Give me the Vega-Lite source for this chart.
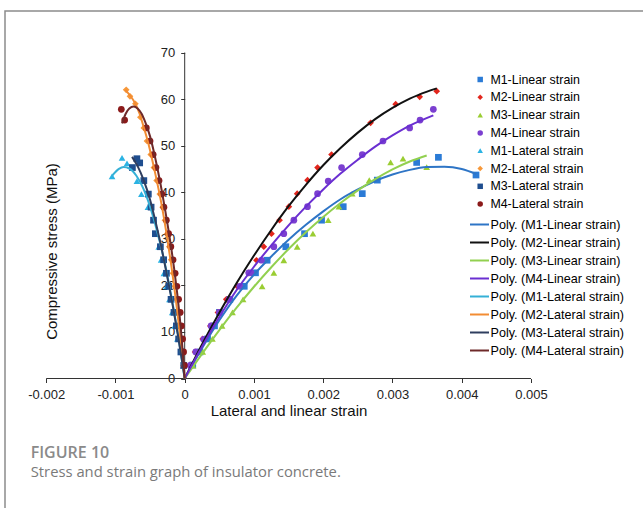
{
  "$schema": "https://vega.github.io/schema/vega-lite/v6.json",
  "width": 643,
  "height": 502,
  "autosize": {"type": "none"},
  "padding": {"left": 5, "top": 11, "right": 0, "bottom": 0},
  "background": "white",
  "config": {
    "view": {"stroke": "#8c8c8c", "strokeWidth": 1.5},
    "font": "Liberation Sans"
  },
  "title": {
    "text": "FIGURE 10",
    "subtitle": "Stress and strain graph of insulator concrete.",
    "orient": "bottom",
    "anchor": "start",
    "frame": "group",
    "offset": -68,
    "dx": 25.7,
    "font": "Open Sans",
    "fontSize": 16,
    "fontWeight": 600,
    "color": "#8a8a8a",
    "subtitleFont": "Open Sans",
    "subtitleFontSize": 14.8,
    "subtitleFontWeight": "normal",
    "subtitleColor": "#7a7a7a",
    "subtitlePadding": 4
  },
  "datasets": {
    "pts": [
      {"s": "M1-Linear strain", "x": 0.000116, "y": 2.9},
      {"s": "M1-Linear strain", "x": 0.00022, "y": 5.7},
      {"s": "M1-Linear strain", "x": 0.00033, "y": 8.5},
      {"s": "M1-Linear strain", "x": 0.00043, "y": 11.3},
      {"s": "M1-Linear strain", "x": 0.000501, "y": 14.2},
      {"s": "M1-Linear strain", "x": 0.000651, "y": 17.0},
      {"s": "M1-Linear strain", "x": 0.00086, "y": 19.8},
      {"s": "M1-Linear strain", "x": 0.001022, "y": 22.7},
      {"s": "M1-Linear strain", "x": 0.00119, "y": 25.4},
      {"s": "M1-Linear strain", "x": 0.00146, "y": 28.3},
      {"s": "M1-Linear strain", "x": 0.00173, "y": 31.1},
      {"s": "M1-Linear strain", "x": 0.001976, "y": 34.0},
      {"s": "M1-Linear strain", "x": 0.002289, "y": 36.9},
      {"s": "M1-Linear strain", "x": 0.002564, "y": 39.7},
      {"s": "M1-Linear strain", "x": 0.002781, "y": 42.6},
      {"s": "M1-Linear strain", "x": 0.003349, "y": 46.4},
      {"s": "M1-Linear strain", "x": 0.003663, "y": 47.5},
      {"s": "M1-Linear strain", "x": 0.004206, "y": 43.7},
      {"s": "M2-Linear strain", "x": 0.00007, "y": 2.8},
      {"s": "M2-Linear strain", "x": 0.00015, "y": 5.7},
      {"s": "M2-Linear strain", "x": 0.00026, "y": 8.5},
      {"s": "M2-Linear strain", "x": 0.00037, "y": 11.3},
      {"s": "M2-Linear strain", "x": 0.00048, "y": 14.2},
      {"s": "M2-Linear strain", "x": 0.0006, "y": 17.0},
      {"s": "M2-Linear strain", "x": 0.00076, "y": 19.8},
      {"s": "M2-Linear strain", "x": 0.000925, "y": 22.7},
      {"s": "M2-Linear strain", "x": 0.001036, "y": 25.4},
      {"s": "M2-Linear strain", "x": 0.001142, "y": 28.3},
      {"s": "M2-Linear strain", "x": 0.001253, "y": 31.1},
      {"s": "M2-Linear strain", "x": 0.001369, "y": 34.0},
      {"s": "M2-Linear strain", "x": 0.001504, "y": 36.9},
      {"s": "M2-Linear strain", "x": 0.001624, "y": 39.7},
      {"s": "M2-Linear strain", "x": 0.001773, "y": 42.6},
      {"s": "M2-Linear strain", "x": 0.001918, "y": 45.3},
      {"s": "M2-Linear strain", "x": 0.00212, "y": 48.1},
      {"s": "M2-Linear strain", "x": 0.002684, "y": 54.9},
      {"s": "M2-Linear strain", "x": 0.003046, "y": 58.9},
      {"s": "M2-Linear strain", "x": 0.003393, "y": 60.5},
      {"s": "M2-Linear strain", "x": 0.003639, "y": 61.7},
      {"s": "M3-Linear strain", "x": 0.00012, "y": 2.8},
      {"s": "M3-Linear strain", "x": 0.00026, "y": 5.7},
      {"s": "M3-Linear strain", "x": 0.0004, "y": 8.5},
      {"s": "M3-Linear strain", "x": 0.00054, "y": 11.3},
      {"s": "M3-Linear strain", "x": 0.00069, "y": 14.2},
      {"s": "M3-Linear strain", "x": 0.000843, "y": 17.0},
      {"s": "M3-Linear strain", "x": 0.001118, "y": 19.8},
      {"s": "M3-Linear strain", "x": 0.001287, "y": 22.7},
      {"s": "M3-Linear strain", "x": 0.001431, "y": 25.4},
      {"s": "M3-Linear strain", "x": 0.001624, "y": 28.3},
      {"s": "M3-Linear strain", "x": 0.001851, "y": 31.1},
      {"s": "M3-Linear strain", "x": 0.002072, "y": 34.0},
      {"s": "M3-Linear strain", "x": 0.002227, "y": 36.9},
      {"s": "M3-Linear strain", "x": 0.002419, "y": 39.7},
      {"s": "M3-Linear strain", "x": 0.002665, "y": 42.6},
      {"s": "M3-Linear strain", "x": 0.002973, "y": 46.4},
      {"s": "M3-Linear strain", "x": 0.003152, "y": 47.2},
      {"s": "M3-Linear strain", "x": 0.003494, "y": 45.4},
      {"s": "M4-Linear strain", "x": 0.00008, "y": 2.8},
      {"s": "M4-Linear strain", "x": 0.00016, "y": 5.7},
      {"s": "M4-Linear strain", "x": 0.000275, "y": 8.4},
      {"s": "M4-Linear strain", "x": 0.000381, "y": 11.3},
      {"s": "M4-Linear strain", "x": 0.0005, "y": 14.2},
      {"s": "M4-Linear strain", "x": 0.00064, "y": 17.0},
      {"s": "M4-Linear strain", "x": 0.000795, "y": 19.8},
      {"s": "M4-Linear strain", "x": 0.000925, "y": 22.7},
      {"s": "M4-Linear strain", "x": 0.000959, "y": 22.7},
      {"s": "M4-Linear strain", "x": 0.001108, "y": 25.4},
      {"s": "M4-Linear strain", "x": 0.001287, "y": 28.3},
      {"s": "M4-Linear strain", "x": 0.001431, "y": 31.1},
      {"s": "M4-Linear strain", "x": 0.001576, "y": 34.0},
      {"s": "M4-Linear strain", "x": 0.001773, "y": 36.9},
      {"s": "M4-Linear strain", "x": 0.001918, "y": 39.7},
      {"s": "M4-Linear strain", "x": 0.002072, "y": 42.4},
      {"s": "M4-Linear strain", "x": 0.002265, "y": 45.3},
      {"s": "M4-Linear strain", "x": 0.002564, "y": 48.1},
      {"s": "M4-Linear strain", "x": 0.002863, "y": 51.0},
      {"s": "M4-Linear strain", "x": 0.003248, "y": 53.8},
      {"s": "M4-Linear strain", "x": 0.003398, "y": 55.5},
      {"s": "M4-Linear strain", "x": 0.00359, "y": 57.8},
      {"s": "M1-Lateral strain", "x": -0.001049, "y": 43.4},
      {"s": "M1-Lateral strain", "x": -0.000905, "y": 47.4},
      {"s": "M1-Lateral strain", "x": -0.000833, "y": 46.2},
      {"s": "M1-Lateral strain", "x": -0.00069, "y": 42.4},
      {"s": "M1-Lateral strain", "x": -0.000625, "y": 39.6},
      {"s": "M1-Lateral strain", "x": -0.00053, "y": 36.8},
      {"s": "M1-Lateral strain", "x": -0.00045, "y": 34.0},
      {"s": "M1-Lateral strain", "x": -0.00041, "y": 31.1},
      {"s": "M1-Lateral strain", "x": -0.000375, "y": 28.3},
      {"s": "M1-Lateral strain", "x": -0.00034, "y": 25.5},
      {"s": "M1-Lateral strain", "x": -0.0003, "y": 22.6},
      {"s": "M1-Lateral strain", "x": -0.00026, "y": 19.8},
      {"s": "M1-Lateral strain", "x": -0.00022, "y": 17.0},
      {"s": "M1-Lateral strain", "x": -0.00018, "y": 14.2},
      {"s": "M1-Lateral strain", "x": -0.000145, "y": 11.3},
      {"s": "M1-Lateral strain", "x": -0.000105, "y": 8.5},
      {"s": "M1-Lateral strain", "x": -0.00004, "y": 5.9},
      {"s": "M1-Lateral strain", "x": -0.00002, "y": 2.8},
      {"s": "M2-Lateral strain", "x": -0.000845, "y": 62.0},
      {"s": "M2-Lateral strain", "x": -0.00079, "y": 60.6},
      {"s": "M2-Lateral strain", "x": -0.000712, "y": 59.0},
      {"s": "M2-Lateral strain", "x": -0.00064, "y": 56.1},
      {"s": "M2-Lateral strain", "x": -0.00059, "y": 53.8},
      {"s": "M2-Lateral strain", "x": -0.000545, "y": 51.0},
      {"s": "M2-Lateral strain", "x": -0.00049, "y": 48.1},
      {"s": "M2-Lateral strain", "x": -0.000445, "y": 45.3},
      {"s": "M2-Lateral strain", "x": -0.000405, "y": 42.5},
      {"s": "M2-Lateral strain", "x": -0.00036, "y": 39.6},
      {"s": "M2-Lateral strain", "x": -0.000318, "y": 36.8},
      {"s": "M2-Lateral strain", "x": -0.000285, "y": 34.0},
      {"s": "M2-Lateral strain", "x": -0.000253, "y": 31.1},
      {"s": "M2-Lateral strain", "x": -0.000222, "y": 28.3},
      {"s": "M2-Lateral strain", "x": -0.000195, "y": 25.5},
      {"s": "M2-Lateral strain", "x": -0.00017, "y": 22.6},
      {"s": "M2-Lateral strain", "x": -0.000143, "y": 19.8},
      {"s": "M2-Lateral strain", "x": -0.000118, "y": 17.0},
      {"s": "M2-Lateral strain", "x": -0.000094, "y": 14.2},
      {"s": "M2-Lateral strain", "x": -0.000072, "y": 11.3},
      {"s": "M2-Lateral strain", "x": -0.000052, "y": 8.5},
      {"s": "M2-Lateral strain", "x": -0.000033, "y": 5.7},
      {"s": "M2-Lateral strain", "x": -0.000016, "y": 2.8},
      {"s": "M3-Lateral strain", "x": -0.000755, "y": 45.3},
      {"s": "M3-Lateral strain", "x": -0.00069, "y": 47.2},
      {"s": "M3-Lateral strain", "x": -0.00065, "y": 46.3},
      {"s": "M3-Lateral strain", "x": -0.00059, "y": 42.5},
      {"s": "M3-Lateral strain", "x": -0.000525, "y": 39.6},
      {"s": "M3-Lateral strain", "x": -0.000485, "y": 36.8},
      {"s": "M3-Lateral strain", "x": -0.00045, "y": 34.0},
      {"s": "M3-Lateral strain", "x": -0.000424, "y": 31.1},
      {"s": "M3-Lateral strain", "x": -0.000351, "y": 28.3},
      {"s": "M3-Lateral strain", "x": -0.000304, "y": 25.5},
      {"s": "M3-Lateral strain", "x": -0.000264, "y": 22.6},
      {"s": "M3-Lateral strain", "x": -0.00023, "y": 19.8},
      {"s": "M3-Lateral strain", "x": -0.000197, "y": 17.0},
      {"s": "M3-Lateral strain", "x": -0.000155, "y": 14.2},
      {"s": "M3-Lateral strain", "x": -0.00012, "y": 11.3},
      {"s": "M3-Lateral strain", "x": -0.000088, "y": 8.5},
      {"s": "M3-Lateral strain", "x": -0.000055, "y": 5.7},
      {"s": "M3-Lateral strain", "x": -0.000014, "y": 2.8},
      {"s": "M4-Lateral strain", "x": -0.000915, "y": 57.8},
      {"s": "M4-Lateral strain", "x": -0.000867, "y": 55.5},
      {"s": "M4-Lateral strain", "x": -0.000554, "y": 53.8},
      {"s": "M4-Lateral strain", "x": -0.0005, "y": 51.0},
      {"s": "M4-Lateral strain", "x": -0.000455, "y": 48.1},
      {"s": "M4-Lateral strain", "x": -0.000415, "y": 45.3},
      {"s": "M4-Lateral strain", "x": -0.00037, "y": 42.5},
      {"s": "M4-Lateral strain", "x": -0.00033, "y": 39.6},
      {"s": "M4-Lateral strain", "x": -0.0003, "y": 36.8},
      {"s": "M4-Lateral strain", "x": -0.000265, "y": 34.0},
      {"s": "M4-Lateral strain", "x": -0.000232, "y": 31.1},
      {"s": "M4-Lateral strain", "x": -0.0002, "y": 28.3},
      {"s": "M4-Lateral strain", "x": -0.000168, "y": 25.5},
      {"s": "M4-Lateral strain", "x": -0.000138, "y": 22.6},
      {"s": "M4-Lateral strain", "x": -0.000113, "y": 19.8},
      {"s": "M4-Lateral strain", "x": -0.000088, "y": 17.0},
      {"s": "M4-Lateral strain", "x": -0.000065, "y": 14.2},
      {"s": "M4-Lateral strain", "x": -0.000048, "y": 11.3},
      {"s": "M4-Lateral strain", "x": -0.00003, "y": 8.5},
      {"s": "M4-Lateral strain", "x": -0.000016, "y": 5.7},
      {"s": "M4-Lateral strain", "x": -0.000005, "y": 2.8}
    ],
    "lines": [
      {"s": "Poly. (M1-Linear strain)", "x": 0, "y": 0},
      {"s": "Poly. (M1-Linear strain)", "x": 0.00025, "y": 6.5},
      {"s": "Poly. (M1-Linear strain)", "x": 0.0005, "y": 12.5},
      {"s": "Poly. (M1-Linear strain)", "x": 0.00075, "y": 17.8},
      {"s": "Poly. (M1-Linear strain)", "x": 0.001, "y": 22.3},
      {"s": "Poly. (M1-Linear strain)", "x": 0.00125, "y": 26.2},
      {"s": "Poly. (M1-Linear strain)", "x": 0.0015, "y": 29.8},
      {"s": "Poly. (M1-Linear strain)", "x": 0.00175, "y": 33.0},
      {"s": "Poly. (M1-Linear strain)", "x": 0.002, "y": 35.9},
      {"s": "Poly. (M1-Linear strain)", "x": 0.00225, "y": 38.5},
      {"s": "Poly. (M1-Linear strain)", "x": 0.0025, "y": 40.6},
      {"s": "Poly. (M1-Linear strain)", "x": 0.00275, "y": 42.4},
      {"s": "Poly. (M1-Linear strain)", "x": 0.003, "y": 43.8},
      {"s": "Poly. (M1-Linear strain)", "x": 0.00325, "y": 44.8},
      {"s": "Poly. (M1-Linear strain)", "x": 0.0035, "y": 45.4},
      {"s": "Poly. (M1-Linear strain)", "x": 0.00375, "y": 45.5},
      {"s": "Poly. (M1-Linear strain)", "x": 0.004, "y": 45.0},
      {"s": "Poly. (M1-Linear strain)", "x": 0.00421, "y": 43.9},
      {"s": "Poly. (M2-Linear strain)", "x": 0, "y": 0},
      {"s": "Poly. (M2-Linear strain)", "x": 0.00025, "y": 7.3},
      {"s": "Poly. (M2-Linear strain)", "x": 0.0005, "y": 14.1},
      {"s": "Poly. (M2-Linear strain)", "x": 0.00075, "y": 20.5},
      {"s": "Poly. (M2-Linear strain)", "x": 0.001, "y": 26.4},
      {"s": "Poly. (M2-Linear strain)", "x": 0.00125, "y": 31.9},
      {"s": "Poly. (M2-Linear strain)", "x": 0.0015, "y": 37.0},
      {"s": "Poly. (M2-Linear strain)", "x": 0.00175, "y": 41.6},
      {"s": "Poly. (M2-Linear strain)", "x": 0.002, "y": 45.8},
      {"s": "Poly. (M2-Linear strain)", "x": 0.00225, "y": 49.5},
      {"s": "Poly. (M2-Linear strain)", "x": 0.0025, "y": 52.8},
      {"s": "Poly. (M2-Linear strain)", "x": 0.00275, "y": 55.7},
      {"s": "Poly. (M2-Linear strain)", "x": 0.003, "y": 58.1},
      {"s": "Poly. (M2-Linear strain)", "x": 0.00325, "y": 60.1},
      {"s": "Poly. (M2-Linear strain)", "x": 0.0035, "y": 61.6},
      {"s": "Poly. (M2-Linear strain)", "x": 0.00364, "y": 62.3},
      {"s": "Poly. (M3-Linear strain)", "x": 0, "y": 0},
      {"s": "Poly. (M3-Linear strain)", "x": 0.00025, "y": 5.3},
      {"s": "Poly. (M3-Linear strain)", "x": 0.0005, "y": 10.4},
      {"s": "Poly. (M3-Linear strain)", "x": 0.00075, "y": 15.2},
      {"s": "Poly. (M3-Linear strain)", "x": 0.001, "y": 19.7},
      {"s": "Poly. (M3-Linear strain)", "x": 0.00125, "y": 23.9},
      {"s": "Poly. (M3-Linear strain)", "x": 0.0015, "y": 27.8},
      {"s": "Poly. (M3-Linear strain)", "x": 0.00175, "y": 31.4},
      {"s": "Poly. (M3-Linear strain)", "x": 0.002, "y": 34.7},
      {"s": "Poly. (M3-Linear strain)", "x": 0.00225, "y": 37.7},
      {"s": "Poly. (M3-Linear strain)", "x": 0.0025, "y": 40.4},
      {"s": "Poly. (M3-Linear strain)", "x": 0.00275, "y": 42.8},
      {"s": "Poly. (M3-Linear strain)", "x": 0.003, "y": 44.9},
      {"s": "Poly. (M3-Linear strain)", "x": 0.00325, "y": 46.6},
      {"s": "Poly. (M3-Linear strain)", "x": 0.003494, "y": 47.9},
      {"s": "Poly. (M4-Linear strain)", "x": 0, "y": 0},
      {"s": "Poly. (M4-Linear strain)", "x": 0.00025, "y": 6.8},
      {"s": "Poly. (M4-Linear strain)", "x": 0.0005, "y": 13.2},
      {"s": "Poly. (M4-Linear strain)", "x": 0.00075, "y": 19.0},
      {"s": "Poly. (M4-Linear strain)", "x": 0.001, "y": 24.0},
      {"s": "Poly. (M4-Linear strain)", "x": 0.00125, "y": 28.6},
      {"s": "Poly. (M4-Linear strain)", "x": 0.0015, "y": 32.9},
      {"s": "Poly. (M4-Linear strain)", "x": 0.00175, "y": 36.9},
      {"s": "Poly. (M4-Linear strain)", "x": 0.002, "y": 40.6},
      {"s": "Poly. (M4-Linear strain)", "x": 0.00225, "y": 44.0},
      {"s": "Poly. (M4-Linear strain)", "x": 0.0025, "y": 47.0},
      {"s": "Poly. (M4-Linear strain)", "x": 0.00275, "y": 49.8},
      {"s": "Poly. (M4-Linear strain)", "x": 0.003, "y": 52.2},
      {"s": "Poly. (M4-Linear strain)", "x": 0.00325, "y": 54.3},
      {"s": "Poly. (M4-Linear strain)", "x": 0.00359, "y": 56.5},
      {"s": "Poly. (M1-Lateral strain)", "x": -0.001049, "y": 43.5},
      {"s": "Poly. (M1-Lateral strain)", "x": -0.00095, "y": 45.0},
      {"s": "Poly. (M1-Lateral strain)", "x": -0.000881, "y": 45.4},
      {"s": "Poly. (M1-Lateral strain)", "x": -0.0008, "y": 45.1},
      {"s": "Poly. (M1-Lateral strain)", "x": -0.0007, "y": 43.6},
      {"s": "Poly. (M1-Lateral strain)", "x": -0.0006, "y": 40.9},
      {"s": "Poly. (M1-Lateral strain)", "x": -0.0005, "y": 36.9},
      {"s": "Poly. (M1-Lateral strain)", "x": -0.0004, "y": 31.7},
      {"s": "Poly. (M1-Lateral strain)", "x": -0.0003, "y": 25.6},
      {"s": "Poly. (M1-Lateral strain)", "x": -0.0002, "y": 18.2},
      {"s": "Poly. (M1-Lateral strain)", "x": -0.0001, "y": 9.7},
      {"s": "Poly. (M1-Lateral strain)", "x": 0, "y": 0},
      {"s": "Poly. (M2-Lateral strain)", "x": -0.000857, "y": 62.0},
      {"s": "Poly. (M2-Lateral strain)", "x": -0.00078, "y": 60.6},
      {"s": "Poly. (M2-Lateral strain)", "x": -0.000712, "y": 59.0},
      {"s": "Poly. (M2-Lateral strain)", "x": -0.00065, "y": 56.8},
      {"s": "Poly. (M2-Lateral strain)", "x": -0.000592, "y": 54.0},
      {"s": "Poly. (M2-Lateral strain)", "x": -0.00052, "y": 50.2},
      {"s": "Poly. (M2-Lateral strain)", "x": -0.000447, "y": 45.5},
      {"s": "Poly. (M2-Lateral strain)", "x": -0.000385, "y": 41.2},
      {"s": "Poly. (M2-Lateral strain)", "x": -0.000327, "y": 36.8},
      {"s": "Poly. (M2-Lateral strain)", "x": -0.00027, "y": 31.8},
      {"s": "Poly. (M2-Lateral strain)", "x": -0.000231, "y": 28.0},
      {"s": "Poly. (M2-Lateral strain)", "x": -0.00019, "y": 23.9},
      {"s": "Poly. (M2-Lateral strain)", "x": -0.000149, "y": 19.4},
      {"s": "Poly. (M2-Lateral strain)", "x": -0.0001, "y": 13.5},
      {"s": "Poly. (M2-Lateral strain)", "x": -0.00005, "y": 6.8},
      {"s": "Poly. (M2-Lateral strain)", "x": 0, "y": 0},
      {"s": "Poly. (M3-Lateral strain)", "x": -0.00076, "y": 47.6},
      {"s": "Poly. (M3-Lateral strain)", "x": -0.00068, "y": 45.6},
      {"s": "Poly. (M3-Lateral strain)", "x": -0.00059, "y": 42.5},
      {"s": "Poly. (M3-Lateral strain)", "x": -0.0005, "y": 38.4},
      {"s": "Poly. (M3-Lateral strain)", "x": -0.00042, "y": 33.6},
      {"s": "Poly. (M3-Lateral strain)", "x": -0.00034, "y": 28.4},
      {"s": "Poly. (M3-Lateral strain)", "x": -0.00026, "y": 22.5},
      {"s": "Poly. (M3-Lateral strain)", "x": -0.00018, "y": 16.3},
      {"s": "Poly. (M3-Lateral strain)", "x": -0.0001, "y": 9.5},
      {"s": "Poly. (M3-Lateral strain)", "x": -0.00003, "y": 3.0},
      {"s": "Poly. (M3-Lateral strain)", "x": 0, "y": 0},
      {"s": "Poly. (M4-Lateral strain)", "x": -0.000905, "y": 54.8},
      {"s": "Poly. (M4-Lateral strain)", "x": -0.00085, "y": 56.9},
      {"s": "Poly. (M4-Lateral strain)", "x": -0.0008, "y": 58.0},
      {"s": "Poly. (M4-Lateral strain)", "x": -0.000737, "y": 58.4},
      {"s": "Poly. (M4-Lateral strain)", "x": -0.00068, "y": 58.0},
      {"s": "Poly. (M4-Lateral strain)", "x": -0.00062, "y": 56.8},
      {"s": "Poly. (M4-Lateral strain)", "x": -0.000568, "y": 55.0},
      {"s": "Poly. (M4-Lateral strain)", "x": -0.0005, "y": 52.0},
      {"s": "Poly. (M4-Lateral strain)", "x": -0.000447, "y": 48.8},
      {"s": "Poly. (M4-Lateral strain)", "x": -0.000387, "y": 44.6},
      {"s": "Poly. (M4-Lateral strain)", "x": -0.000327, "y": 40.0},
      {"s": "Poly. (M4-Lateral strain)", "x": -0.00028, "y": 36.0},
      {"s": "Poly. (M4-Lateral strain)", "x": -0.000231, "y": 31.6},
      {"s": "Poly. (M4-Lateral strain)", "x": -0.00019, "y": 27.6},
      {"s": "Poly. (M4-Lateral strain)", "x": -0.000149, "y": 23.2},
      {"s": "Poly. (M4-Lateral strain)", "x": -0.00011, "y": 18.5},
      {"s": "Poly. (M4-Lateral strain)", "x": -0.000077, "y": 14.0},
      {"s": "Poly. (M4-Lateral strain)", "x": -0.00004, "y": 8.0},
      {"s": "Poly. (M4-Lateral strain)", "x": 0, "y": 0}
    ]
  },
  "layer": [
    {
      "data": {"values": [{}]},
      "mark": {"type": "rule", "color": "#333333", "strokeWidth": 1},
      "encoding": {
        "x": {"datum": -0.002, "type": "quantitative", "scale": {"domain": [-0.0025946, 0.0066893], "nice": false, "zero": false}},
        "x2": {"datum": 0.005},
        "y": {"datum": 0, "type": "quantitative", "scale": {"domain": [-28.88, 78.92], "nice": false, "zero": false}}
      }
    },
    {
      "data": {"values": [{}]},
      "mark": {"type": "rule", "color": "#333333", "strokeWidth": 1},
      "encoding": {
        "x": {"datum": 0, "type": "quantitative", "scale": {"domain": [-0.0025946, 0.0066893], "nice": false, "zero": false}},
        "y": {"datum": 0, "type": "quantitative", "scale": {"domain": [-28.88, 78.92], "nice": false, "zero": false}},
        "y2": {"datum": 70}
      }
    },
    {
      "data": {"name": "pts"},
      "mark": {"type": "point", "filled": true, "size": 45, "opacity": 1},
      "encoding": {
        "x": {
          "field": "x", "type": "quantitative",
          "scale": {"domain": [-0.0025946, 0.0066893], "nice": false, "zero": false},
          "axis": {
            "values": [-0.002, -0.001, 0, 0.001, 0.002, 0.003, 0.004, 0.005],
            "domain": false, "grid": false, "offset": -134.5,
            "tickSize": 4, "tickColor": "#333333", "labelFlush": false,
            "labelFont": "Liberation Sans", "labelFontSize": 13, "labelColor": "#222222", "labelPadding": 6,
            "labelExpr": "datum.value < 0 ? '-' + format(-datum.value, '.3f') : (datum.value == 0 ? '0' : format(datum.value, '.3f'))",
            "title": "Lateral and linear strain",
            "titleFont": "Liberation Sans", "titleFontSize": 15, "titleFontWeight": "normal", "titleColor": "#111111",
            "titleX": 283.5, "titleY": 25, "titleAlign": "center", "titleBaseline": "top"
          }
        },
        "y": {
          "field": "y", "type": "quantitative",
          "scale": {"domain": [-28.88, 78.92], "nice": false, "zero": false},
          "axis": {
            "values": [0, 10, 20, 30, 40, 50, 60, 70],
            "domain": false, "grid": false, "offset": -179.7,
            "tickSize": 4, "tickColor": "#333333",
            "labelFont": "Liberation Sans", "labelFontSize": 13, "labelColor": "#222222", "labelPadding": 6,
            "title": "Compressive stress (MPa)",
            "titleFont": "Liberation Sans", "titleFontSize": 15, "titleFontWeight": "normal", "titleColor": "#111111",
            "titleX": -133, "titleY": 240, "titleAngle": 270, "titleAlign": "center", "titleBaseline": "middle"
          }
        },
        "color": {
          "field": "s", "type": "nominal",
          "scale": {
            "domain": ["M1-Linear strain", "M2-Linear strain", "M3-Linear strain", "M4-Linear strain", "M1-Lateral strain", "M2-Lateral strain", "M3-Lateral strain", "M4-Lateral strain"],
            "range": ["#2b7bd6", "#e2261d", "#9acd32", "#7b3fd0", "#2bb3e3", "#f7983a", "#1f4e8f", "#8b1a1a"]
          },
          "legend": {
            "title": null, "orient": "none", "direction": "vertical", "legendX": 469, "legendY": 62.3,
            "padding": 0, "symbolSize": 30, "symbolStrokeWidth": 0, "labelOffset": 4,
            "rowPadding": 4.8, "labelFont": "Liberation Sans", "labelFontSize": 12.4, "labelColor": "#000000"
          }
        },
        "shape": {
          "field": "s", "type": "nominal",
          "scale": {
            "domain": ["M1-Linear strain", "M2-Linear strain", "M3-Linear strain", "M4-Linear strain", "M1-Lateral strain", "M2-Lateral strain", "M3-Lateral strain", "M4-Lateral strain"],
            "range": ["square", "diamond", "triangle-up", "circle", "triangle-up", "diamond", "square", "circle"]
          },
          "legend": {
            "title": null, "orient": "none", "direction": "vertical", "legendX": 469, "legendY": 62.3,
            "padding": 0, "symbolSize": 30, "symbolStrokeWidth": 0, "labelOffset": 4,
            "rowPadding": 4.8, "labelFont": "Liberation Sans", "labelFontSize": 12.4, "labelColor": "#000000"
          }
        }
      }
    },
    {
      "data": {"name": "lines"},
      "mark": {"type": "line", "strokeWidth": 2, "interpolate": "monotone"},
      "encoding": {
        "x": {"field": "x", "type": "quantitative", "scale": {"domain": [-0.0025946, 0.0066893], "nice": false, "zero": false}},
        "y": {"field": "y", "type": "quantitative", "scale": {"domain": [-28.88, 78.92], "nice": false, "zero": false}},
        "stroke": {
          "field": "s", "type": "nominal",
          "scale": {
            "domain": ["Poly. (M1-Linear strain)", "Poly. (M2-Linear strain)", "Poly. (M3-Linear strain)", "Poly. (M4-Linear strain)", "Poly. (M1-Lateral strain)", "Poly. (M2-Lateral strain)", "Poly. (M3-Lateral strain)", "Poly. (M4-Lateral strain)"],
            "range": ["#2e75c6", "#111111", "#92d050", "#6a2fd1", "#35b0d6", "#f28c33", "#2f3e5f", "#6e2a2a"]
          },
          "legend": {
            "title": null, "orient": "none", "direction": "vertical", "legendX": 464, "legendY": 203,
            "padding": 0, "symbolType": "stroke", "symbolSize": 361, "symbolStrokeWidth": 2, "labelOffset": 0.5,
            "rowPadding": -0.3, "labelFont": "Liberation Sans", "labelFontSize": 12.6, "labelColor": "#000000"
          }
        }
      }
    }
  ]
}
